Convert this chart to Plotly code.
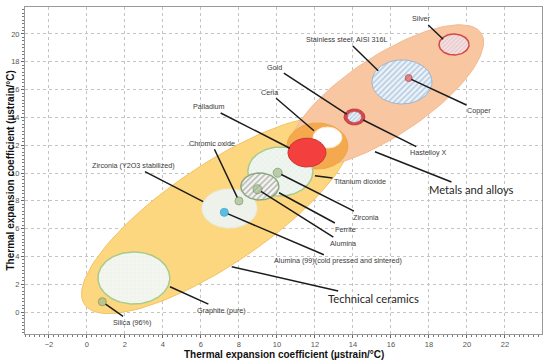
import numpy as np
import plotly.graph_objects as go

# material regions: centre (x, y), semi-axes (a, b) in x-units of screen length, tilt in degrees
REGION_NAMES = ["Technical ceramics", "Metals and alloys", "Ceria/Palladium zone"]
REGION_CX = [6.85, 15.74, 12.13]
REGION_CY = [6.98, 15.54, 11.94]
REGION_A = [8.42, 6.0, 1.6]
REGION_B = [2.63, 2.1, 1.21]
REGION_TILT = [34, 33.5, 0]

MAT_NAMES = ["Graphite (pure)", "Zirconia (Y2O3 stabilized)", "Titanium dioxide", "Ferrite",
             "Ceria", "Palladium", "Stainless steel, AISI 316L", "Gold", "Hastelloy X", "Silver"]
MAT_CX = [2.47, 7.50, 10.18, 9.10, 12.66, 11.58, 16.58, 14.08, 14.08, 19.32]
MAT_CY = [2.45, 7.45, 10.11, 9.03, 12.55, 11.47, 16.55, 14.03, 14.03, 19.24]
MAT_A = [1.89, 1.45, 1.71, 1.00, 0.76, 1.00, 1.58, 0.55, 0.37, 0.79]
MAT_B = [1.37, 1.03, 1.29, 0.71, 0.55, 0.76, 1.16, 0.42, 0.29, 0.55]

DOT_NAMES = ["Silica (96%)", "Alumina (99)(cold pressed and sintered)", "Chromic oxide",
             "Alumina", "Zirconia", "Copper"]
DOT_X = [0.81, 7.23, 8.00, 8.98, 10.04, 16.93]
DOT_Y = [0.74, 7.17, 7.99, 8.83, 10.02, 16.83]

# callouts: label text, label position, line end
LABELS = ["Silver", "Stainless steel, AISI 316L", "Copper", "Gold", "Ceria", "Palladium",
          "Hastelloy X", "Titanium dioxide", "Chromic oxide", "Zirconia (Y2O3 stabilized)",
          "Zirconia", "Ferrite", "Alumina", "Alumina (99)(cold pressed and sintered)",
          "Graphite (pure)", "Silica (96%)"]
LABEL_X = [17.63, 13.67, 20.65, 9.89, 9.59, 6.42, 17.96, 14.37, 6.56, 2.44,
           14.68, 13.63, 13.47, 13.21, 7.09, 2.35]
LABEL_Y = [21.08, 19.57, 14.46, 17.60, 15.81, 14.75, 11.46, 9.37, 12.14, 10.53,
           6.83, 5.97, 4.96, 3.69, 0.14, -0.74]
END_X = [18.75, 15.33, 16.93, 13.67, 11.95, 10.68, 14.54, 12.00, 8.00, 6.12,
         10.04, 10.11, 8.98, 7.23, 4.37, 0.81]
END_Y = [19.62, 17.36, 16.83, 14.24, 13.04, 11.78, 13.81, 9.81, 7.99, 7.94,
         10.02, 8.58, 8.83, 7.17, 1.82, 0.74]

GROUP_LABELS = ["Metals and alloys", "Technical ceramics"]
GROUP_X = [20.25, 15.07]
GROUP_Y = [8.78, 0.94]
GROUP_END_X = [15.16, 7.62]
GROUP_END_Y = [11.53, 3.26]

AXIS_TITLE = "Thermal expansion coefficient (µstrain/°C)"

RATIO = 19.0 / 13.9  # x px per unit / y px per unit


def ellipse(cx, cy, a, b, tilt):
    t = np.linspace(0, 2 * np.pi, 120)
    th = np.radians(tilt)
    x = cx + a * np.cos(t) * np.cos(th) - b * np.sin(t) * np.sin(th)
    y = cy + (a * np.cos(t) * np.sin(th) + b * np.sin(t) * np.cos(th)) * RATIO
    return x, y


REGION_STYLE = [
    dict(fillcolor="#FDD77F", line=dict(color="#F2C263", width=1)),
    dict(fillcolor="#F8C6A1", line=dict(color="#F2BA92", width=1)),
    dict(fillcolor="#F4A94F", line=dict(color="#F2A445", width=1)),
]

PALE_LINE = dict(color="#A9CB8A", width=1.5)
MAT_STYLE = [
    dict(fillcolor="#F2F6EF", line=PALE_LINE,
         fillpattern=dict(shape="+", fgcolor="#D5DDD2", bgcolor="#F4F7F1", size=4, solidity=0.15)),
    dict(fillcolor="#EEF2EA", line=dict(color="#E6ECE1", width=1)),
    dict(fillcolor="#EEF5EF", line=PALE_LINE,
         fillpattern=dict(shape="x", fgcolor="#CBD8D6", bgcolor="#EFF6F0", size=4, solidity=0.15)),
    dict(fillcolor="#FFFFFF", line=dict(color="#8FA882", width=1.5),
         fillpattern=dict(shape="/", fgcolor="#6A6A6A", bgcolor="#F4F4F0", size=4, solidity=0.35)),
    dict(fillcolor="#FFFFFF", line=dict(color="#FBEBD5", width=1)),
    dict(fillcolor="#F43F3F", line=dict(color="#C93434", width=1)),
    dict(fillcolor="#EAF2F8", line=dict(color="#9BB7CF", width=1),
         fillpattern=dict(shape="/", fgcolor="#7FA6CB", bgcolor="#EEF4F9", size=4, solidity=0.45)),
    dict(fillcolor="#CF4A4F", line=dict(color="#C23A3F", width=1)),
    dict(fillcolor="#EAF2F8", line=dict(color="#CF4A4F", width=0.5),
         fillpattern=dict(shape="/", fgcolor="#7FA6CB", bgcolor="#EEF4F9", size=3, solidity=0.45)),
    dict(fillcolor="#F2DCDD", line=dict(color="#D44747", width=1.5),
         fillpattern=dict(shape="/", fgcolor="#D8A9AE", bgcolor="#F3E0E1", size=3, solidity=0.35)),
]

DOT_FILL = ["#A3BD8D", "#1FA8E0", "#A3BD8D", "#A3BD8D", "#A3BD8D", "#E05A5A"]
DOT_EDGE = ["#6F8C5C", "#1A8FC5", "#6F8C5C", "#6F8C5C", "#6F8C5C", "#B03030"]
DOT_SIZE = [8, 8, 8, 9, 9, 7]

# leader lines that end on a dot stop at its rim
LABEL_STANDOFF = [0, 0, 3, 0, 0, 0, 0, 0, 4, 0, 4, 0, 4, 4, 0, 4]

fig = go.Figure()

for i in range(len(REGION_NAMES)):
    x, y = ellipse(REGION_CX[i], REGION_CY[i], REGION_A[i], REGION_B[i], REGION_TILT[i])
    fig.add_trace(go.Scatter(x=x, y=y, mode="lines", fill="toself", name=REGION_NAMES[i],
                             hoverinfo="name", **REGION_STYLE[i]))

for i in range(len(MAT_NAMES)):
    x, y = ellipse(MAT_CX[i], MAT_CY[i], MAT_A[i], MAT_B[i], 0)
    fig.add_trace(go.Scatter(x=x, y=y, mode="lines", fill="toself", name=MAT_NAMES[i],
                             hoverinfo="name", **MAT_STYLE[i]))

fig.add_trace(go.Scatter(
    x=DOT_X, y=DOT_Y, mode="markers", text=DOT_NAMES, hoverinfo="text",
    marker=dict(color=DOT_FILL, size=DOT_SIZE, line=dict(color=DOT_EDGE, width=1)),
))

annotations = []
for i in range(len(LABELS)):
    annotations.append(dict(
        x=END_X[i], y=END_Y[i], ax=LABEL_X[i], ay=LABEL_Y[i], axref="x", ayref="y",
        text=LABELS[i], showarrow=True, arrowhead=0, arrowwidth=1.5, arrowcolor="#1c1c1c",
        standoff=LABEL_STANDOFF[i],
        font=dict(family="Liberation Sans, Arial", size=7.2, color="#3a3a3a"),
    ))
for i in range(len(GROUP_LABELS)):
    annotations.append(dict(
        x=GROUP_END_X[i], y=GROUP_END_Y[i], ax=GROUP_X[i], ay=GROUP_Y[i], axref="x", ayref="y",
        text=GROUP_LABELS[i], showarrow=True, arrowhead=0, arrowwidth=1.5, arrowcolor="#1c1c1c",
        font=dict(family="Lato, Open Sans", size=11.2, color="#262626"),
    ))

TITLE_FONT = dict(family="Liberation Sans, Arial", size=10, color="#111")
annotations.append(dict(
    xref="paper", yref="paper", x=0.5, y=0, yanchor="top", yshift=-13,
    text=f"<b>{AXIS_TITLE}</b>", showarrow=False, font=TITLE_FONT,
))
annotations.append(dict(
    xref="paper", yref="paper", x=0, y=0.5, xanchor="center", xshift=-15,
    text=f"<b>{AXIS_TITLE}</b>", showarrow=False, textangle=-90, font=TITLE_FONT,
))

AXIS = dict(
    showgrid=True, gridcolor="#C4C4C4", griddash="dot", gridwidth=1,
    zeroline=False, showline=True, linecolor="#9A9A9A", linewidth=1, mirror=True,
    ticks="outside", ticklen=3, tickcolor="#666", dtick=2, tick0=0, automargin=False,
    tickfont=dict(family="Liberation Sans, Arial", size=7.5, color="#555"),
    minor=dict(ticks="outside", ticklen=2, dtick=0.25, tickcolor="#777", showgrid=False),
)

fig.update_layout(
    width=550, height=360,
    margin=dict(l=25, r=8, t=7, b=26),
    paper_bgcolor="white", plot_bgcolor="white",
    showlegend=False,
    annotations=annotations,
    xaxis=dict(AXIS, range=[-3.26, 23.95]),
    yaxis=dict(AXIS, range=[-1.58, 21.94]),
)

# the page body has a default 8px margin; drop it so the figure fills the window
fig.write_html("out.html", config={"displayModeBar": False},
               post_script="document.body.style.margin='0';")
